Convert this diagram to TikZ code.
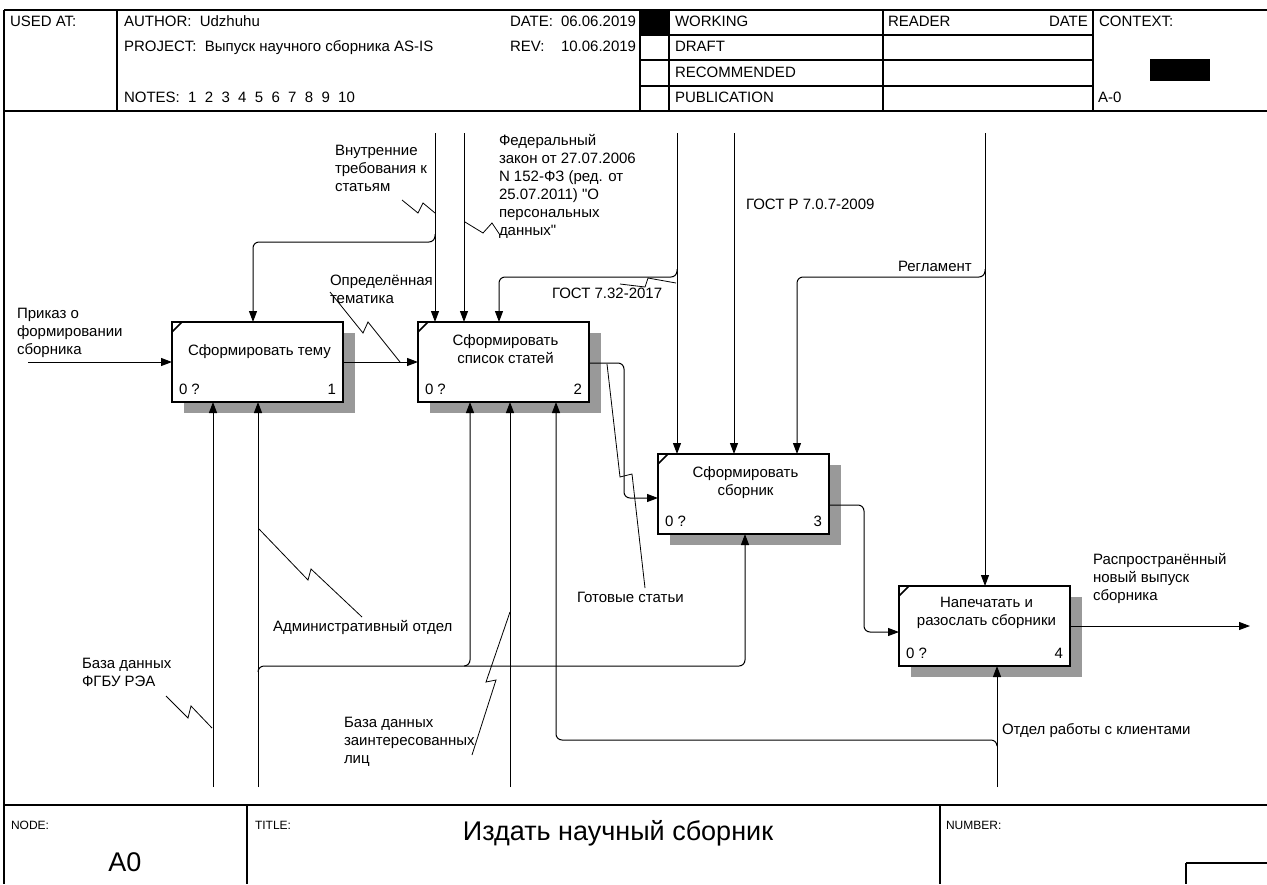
\documentclass[tikz,border=0pt]{standalone}
\usepackage{fontspec}
\setmainfont{Liberation Sans}[Ligatures=TeXOff]
\usetikzlibrary{arrows.meta,shadows,calc}

\begin{document}
\begin{tikzpicture}[x=1pt,y=-1pt,
  every node/.style={inner sep=0pt, outer sep=0pt},
  txt/.style={anchor=north west, align=left, font=\fontsize{15}{18}\selectfont, execute at begin node=\strut},
  ctxt/.style={anchor=north, align=center, font=\fontsize{15}{18}\selectfont, execute at begin node=\strut},
  small/.style={anchor=west, font=\fontsize{12}{14}\selectfont},
  frame/.style={line width=1.2pt, black},
  activity/.style={draw, line width=2pt, fill=white, minimum width=171pt, minimum height=80pt,
    drop shadow={shadow xshift=12pt, shadow yshift=-11pt, fill=black!40, opacity=1}},
  flow/.style={line width=1pt, rounded corners=6pt},
  arr/.style={flow, -{Triangle[length=11pt,width=8pt]}},
  squig/.style={line width=0.8pt},
  corner/.style={line width=1.5pt}
]
\useasboundingbox (0,0) rectangle (1267,884);

% ---------- header frame ----------
\draw[frame] (4,10) -- (1267,10);
\draw[frame] (4,111) -- (1267,111);
\draw[frame] (4,10) -- (4,884);
\draw[frame] (117,10) -- (117,111);
\draw[frame] (640,10) -- (640,111);
\draw[frame] (669,10) -- (669,111);
\draw[frame] (883,10) -- (883,111);
\draw[frame] (1093,10) -- (1093,111);
\draw[frame] (640,35) -- (1093,35);
\draw[frame] (640,60) -- (1093,60);
\draw[frame] (640,86) -- (1093,86);
\fill (640,10) rectangle (669,35);
\fill (1150,59) rectangle (1210,81);

\node[txt] (usedat) at (10,13.6) {USED AT:};
\node[txt] (author) at (124,13.6) {AUTHOR:\ \ Udzhuhu};
\node[txt] (project) at (124,38.6) {PROJECT:\ \ Выпуск научного сборника AS-IS};
\node[txt] (notes) at (124,89.6) {NOTES:\ \ 1\ \ 2\ \ 3\ \ 4\ \ 5\ \ 6\ \ 7\ \ 8\ \ 9\ \ 10};
\node[txt] (datek) at (510,13.6) {DATE:};
\node[txt] (datev) at (561,13.6) {06.06.2019};
\node[txt] (revk) at (510,38.6) {REV:};
\node[txt] (revv) at (561,38.6) {10.06.2019};
\node[txt] (working) at (675,13.6) {WORKING};
\node[txt] (draft) at (675,38.6) {DRAFT};
\node[txt] (recom) at (675,64.6) {RECOMMENDED};
\node[txt] (publ) at (675,89.6) {PUBLICATION};
\node[txt] (reader) at (888,13.6) {READER};
\node[txt] (rdate) at (1049,13.6) {DATE};
\node[txt] (context) at (1099,13.6) {CONTEXT:};
\node[txt] (aminus) at (1098,89.6) {A-0};

% ---------- footer frame ----------
\draw[frame, line width=1.8pt] (4,805) -- (1267,805);
\draw[frame] (247,805) -- (247,884);
\draw[frame] (940,805) -- (940,884);
\draw[frame] (1186,863) -- (1267,863);
\draw[frame] (1186,863) -- (1186,884);
\node[small] (nodek) at (11,825) {NODE:};
\node[small] (titlek) at (255,825) {TITLE:};
\node[small] (numberk) at (946,825) {NUMBER:};
\node[font=\fontsize{27}{30}\selectfont] (title) at (618,833) {Издать научный сборник};
\node[font=\fontsize{27}{30}\selectfont] (nodev) at (125,862) {A0};

% ---------- activities ----------
\node[activity] (b1) at (257.5,362) {};
\node[activity] (b2) at (503.5,362) {};
\node[activity] (b3) at (743.5,494) {};
\node[activity] (b4) at (984.5,626) {};

\foreach \b in {b1,b2,b3,b4}{
  \draw[corner] ($(\b.north west)+(0,10)$) -- ($(\b.north west)+(10,0)$);
  \node[anchor=west, font=\fontsize{15}{18}\selectfont] at ($(\b.south west)+(7,-13)$) {0 ?};
}
\node[anchor=east, font=\fontsize{15}{18}\selectfont] (n1) at ($(b1.south east)+(-7,-13)$) {1};
\node[anchor=east, font=\fontsize{15}{18}\selectfont] (n2) at ($(b2.south east)+(-7,-13)$) {2};
\node[anchor=east, font=\fontsize{15}{18}\selectfont] (n3) at ($(b3.south east)+(-7,-13)$) {3};
\node[anchor=east, font=\fontsize{15}{18}\selectfont] (n4) at ($(b4.south east)+(-7,-13)$) {4};

\node[ctxt] (t1) at ($(b1.north)+(2,20.6)$) {Сформировать тему};
\node[ctxt] (t2) at ($(b2.north)+(2,12.6)$) {Сформировать\\список статей};
\node[ctxt] (t3) at ($(b3.north)+(2,12.6)$) {Сформировать\\сборник};
\node[ctxt] (t4) at ($(b4.north)+(2,11.6)$) {Напечатать и\\разослать сборники};

% ---------- free ends of arrows ----------
\coordinate (inPrikaz) at (28,362);
\coordinate (cVnutr) at (435,133);
\coordinate (cFz) at (464,133);
\coordinate (cGost732) at (677,133);
\coordinate (cGostR) at (734,133);
\coordinate (cRegl) at (985,133);
\coordinate (mBd) at (213,787);
\coordinate (mAdm) at (258,787);
\coordinate (mBdz) at (510,787);
\coordinate (mOtdel) at (997,787);
\coordinate (outRasp) at (1250,626);

% ---------- inputs and outputs ----------
\draw[arr] (inPrikaz) -- (inPrikaz -| b1.west);
\draw[arr] (b1.east) -- (b2.west);
\draw[arr] (b2.east |- 0,363) -- (624,363) -- (624,498) -- (b3.west |- 0,498);
\draw[arr] (b3.east |- 0,505) -- (864,505) -- (864,632) -- (b4.west |- 0,632);
\draw[arr] (b4.east) -- (outRasp);

% ---------- controls ----------
\draw[arr] (cVnutr) -- (cVnutr |- b2.north);
\draw[arr] (435,234) -- (435,242) -- (253,242) -- (b1.north -| 253,0);
\draw[arr] (cFz) -- (cFz |- b2.north);
\draw[arr] (cGost732) -- (cGost732 |- b3.north);
\draw[arr] (677,269) -- (677,277) -- (499,277) -- (b2.north -| 499,0);
\draw[arr] (cGostR) -- (cGostR |- b3.north);
\draw[arr] (cRegl) -- (cRegl |- b4.north);
\draw[arr] (985,269) -- (985,277) -- (797,277) -- (b3.north -| 797,0);

% ---------- mechanisms ----------
\draw[arr] (mBd) -- (mBd |- b1.south);
\draw[arr] (mAdm) -- (mAdm |- b1.south);
\draw[arr] (258,672) -- (258,666) -- (745,666) -- (b3.south -| 745,0);
\draw[arr] (464,666) -- (470,666) -- (b2.south -| 470,0);
\draw[arr] (mBdz) -- (mBdz |- b2.south);
\draw[arr] (mOtdel) -- (mOtdel |- b4.south);
\draw[arr] (997,746) -- (997,740) -- (556,740) -- (b2.south -| 556,0);

% ---------- labels ----------
\node[txt] (lPrikaz) at (17,308.6) {Приказ о\\формировании\\сборника};
\node[txt] (lTem) at (330,274.6) {Определённая\\тематика};
\node[txt] (lVnutr) at (335,145.6) {Внутренние\\требования к\\статьям};
\node[txt] (lFz) at (499,134.6) {Федеральный\\закон от 27.07.2006\\N 152-ФЗ (ред. от\\25.07.2011) "О\\персональных\\данных"};
\node[txt] (lGost732) at (552,285.6) {ГОСТ 7.32-2017};
\node[txt] (lGostR) at (746,196.6) {ГОСТ Р 7.0.7-2009};
\node[txt] (lRegl) at (898,258.6) {Регламент};
\node[txt] (lGot) at (577,589.6) {Готовые статьи};
\node[txt] (lRasp) at (1093,553.6) {Распространённый\\новый выпуск\\сборника};
\node[txt] (lAdm) at (273,618.6) {Административный отдел};
\node[txt] (lBd) at (82,658.6) {База данных\\ФГБУ РЭА};
\node[txt] (lBdz) at (344,717.6) {База данных\\заинтересованных\\лиц};
\node[txt] (lOtdel) at (1002,721.6) {Отдел работы с клиентами};

% ---------- label leaders ----------
\draw[squig] (402,200) -- (418,213) -- (423,203) -- (435,213);
\draw[squig] (465,222) -- (483,233) -- (492,223) -- (500,235);
\draw[squig] (330,292) -- (363,333) -- (368,322) -- (400,362);
\draw[squig] (620,284) -- (645,287) -- (648,278) -- (676,283);
\draw[squig] (607,364) -- (620,477) -- (632,474) -- (645,588);
\draw[squig] (259,529) -- (308,580) -- (311,569) -- (362,617);
\draw[squig] (166,696) -- (188,718) -- (191,706) -- (212,728);
\draw[squig] (510,612) -- (486,682) -- (496,680) -- (472,755);
\end{tikzpicture}
\end{document}
